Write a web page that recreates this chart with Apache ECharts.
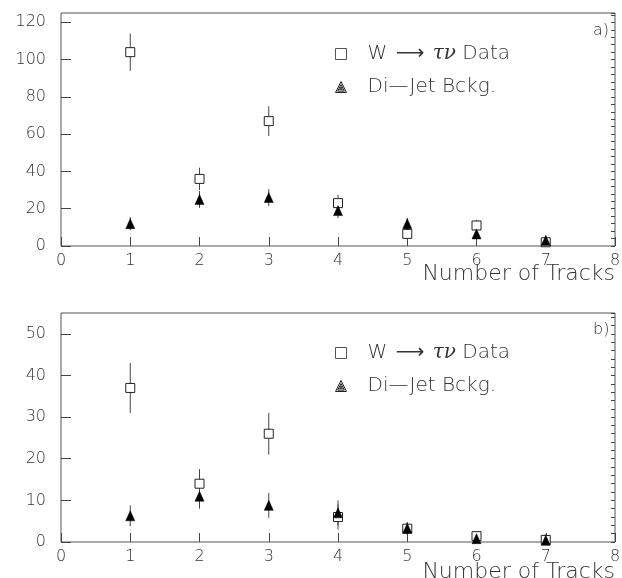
<!DOCTYPE html>
<html>
<head>
<meta charset="utf-8">
<script src="https://cdn.jsdelivr.net/npm/echarts@6/dist/echarts.min.js"></script>
<style>html,body{margin:0;padding:0;background:#fff}#c{width:622px;height:578px}</style>
</head>
<body>
<div id="c"></div>
<script>
// ---- data ----
var tracks = [1, 2, 3, 4, 5, 6, 7];
var xTickLabels = ['0', '1', '2', '3', '4', '5', '6', '7', '8'];
var panelLabels = ['a)', 'b)'];
var dataName = 'W \u2192 \u03C4\u03BD Data';
var bkgName = 'Di\u2014Jet Bckg.';
var xTitle = 'Number of Tracks';

// panel a)
var aData    = [104, 36, 67, 23, 6.5, 11, 2];
var aDataErr = [10, 6, 8, 4.5, 3, 3, 1.5];
var aBkg     = [12, 25, 26, 19, 12, 6.5, 3];
var aBkgErr  = [3.5, 4.5, 4.5, 4, 3, 3, 2.5];
// panel b)
var bData    = [37, 14, 26, 6, 3.2, 1.4, 0.5];
var bDataErr = [6, 3.5, 5, 3, 1.5, 1, 1];
var bBkg     = [6.3, 11, 8.8, 7, 3.3, 0.8, 0.4];
var bBkgErr  = [2.5, 3, 3, 3, 1.5, 1, 1.5];

var yMax = [125, 55];
var yMajor = [20, 10];
var yMinor = [4, 2];

// ---- chart ----
var FONT = 'DejaVu Sans';
var TXT = '#333';
var LINE = '#444';

function pts(xs, ys, es) {
  return xs.map(function (x, i) { return es ? [x, ys[i], es[i]] : [x, ys[i]]; });
}
function errSeries(idx, xs, ys, es) {
  return {
    type: 'custom', xAxisIndex: idx, yAxisIndex: idx * 2, z: 1, silent: true,
    data: pts(xs, ys, es), encode: { x: 0, y: 1 },
    renderItem: function (params, api) {
      var x = api.value(0), y = api.value(1), e = api.value(2);
      var p1 = api.coord([x, Math.max(0, y - e)]);
      var p2 = api.coord([x, y + e]);
      return { type: 'line', shape: { x1: p1[0], y1: p1[1], x2: p2[0], y2: p2[1] },
               style: { stroke: LINE, lineWidth: 1 } };
    }
  };
}

var grids = [
  { left: 61, right: 7, top: 13, bottom: 332 },
  { left: 61, right: 7, top: 313, bottom: 36 }
];
var xAxes = [], yAxes = [], series = [], legends = [], titles = [];
var triPath = 'path://M0,20L10,0L20,20Z M4,17.5L10,5.5L16,17.5Z M7.5,15L10,10L12.5,15Z';

[0, 1].forEach(function (g) {
  xAxes.push({
    type: 'value', gridIndex: g, min: 0, max: 8, interval: 1,
    axisLine: { show: false },
    axisTick: { show: true, inside: true, length: 9, lineStyle: { color: LINE } },
    splitLine: { show: false },
    axisLabel: { fontFamily: FONT, fontSize: 16, fontWeight: 200, color: TXT, margin: 7,
                 formatter: function (v) { return xTickLabels[v]; } }
  });
  yAxes.push({
    type: 'value', gridIndex: g, min: 0, max: yMax[g], interval: yMajor[g],
    axisLine: { show: false },
    axisTick: { show: true, inside: true, length: 10, lineStyle: { color: LINE } },
    splitLine: { show: false },
    axisLabel: { fontFamily: FONT, fontSize: 16, fontWeight: 200, color: TXT, margin: 15,
                 showMaxLabel: false }
  });
  yAxes.push({
    type: 'value', gridIndex: g, min: 0, max: yMax[g], interval: yMinor[g],
    axisLine: { show: false },
    axisTick: { show: true, inside: true, length: 4, lineStyle: { color: LINE } },
    splitLine: { show: false }, axisLabel: { show: false }
  });
  var d = g === 0 ? aData : bData, de = g === 0 ? aDataErr : bDataErr;
  var b = g === 0 ? aBkg : bBkg, be = g === 0 ? aBkgErr : bBkgErr;
  series.push(errSeries(g, tracks, d, de));
  series.push(errSeries(g, tracks, b, be));
  series.push({
    name: dataName, type: 'scatter', xAxisIndex: g, yAxisIndex: g * 2, z: 3,
    symbol: 'rect', symbolSize: 9, data: pts(tracks, d),
    itemStyle: { color: '#fff', borderColor: '#222', borderWidth: 1, opacity: 1 }
  });
  series.push({
    name: bkgName, type: 'scatter', xAxisIndex: g, yAxisIndex: g * 2, z: 4,
    symbol: 'triangle', symbolSize: [9, 10], data: pts(tracks, b),
    itemStyle: { color: '#000', borderColor: '#000', borderWidth: 0.5, opacity: 1 }
  });
  legends.push({
    orient: 'vertical', left: 330, top: g === 0 ? 39 : 338, itemGap: 13,
    itemWidth: 11, itemHeight: 11, selectedMode: false,
    formatter: function (name) {
      if (name === dataName) return '{n|W }{a|\u27F6}{n| }{g|\u03C4\u03BD}{n| Data}';
      return '{n|' + name + '}';
    },
    textStyle: { fontFamily: FONT, fontSize: 20, fontWeight: 200, color: TXT,
                 lineHeight: 20, padding: [0, 0, 0, 16],
                 rich: {
                   n: { fontFamily: FONT, fontSize: 20, fontWeight: 200, color: TXT },
                   a: { fontFamily: 'DejaVu Sans', fontSize: 20, fontWeight: 'normal', color: TXT, padding: [0, 2, 0, 2] },
                   g: { fontFamily: 'DejaVu Serif', fontStyle: 'italic', fontSize: 20, color: TXT }
                 } },
    data: [
      { name: dataName, icon: 'rect', itemStyle: { color: '#fff', borderColor: '#555', borderWidth: 1 } },
      { name: bkgName, icon: triPath, itemStyle: { color: 'rgba(0,0,0,0)', borderColor: '#222', borderWidth: 1 } }
    ]
  });
  titles.push({
    text: panelLabels[g], left: 588, top: g === 0 ? 18 : 317,
    textStyle: { fontFamily: FONT, fontSize: 16, fontWeight: 200, color: TXT }
  });
  titles.push({
    text: xTitle, right: 7, top: g === 0 ? 263 : 561, padding: 0,
    textStyle: { fontFamily: FONT, fontSize: 22, fontWeight: 200, color: TXT }
  });
});

grids.forEach(function (gr) {
  gr.show = true; gr.borderColor = '#555'; gr.borderWidth = 1; gr.backgroundColor = 'transparent';
  gr.containLabel = false; gr.outerBoundsMode = 'none';
});

var chart = echarts.init(document.getElementById('c'), null, { renderer: 'canvas' });
chart.setOption({
  animation: false,
  backgroundColor: '#fff',
  title: titles,
  legend: legends,
  grid: grids,
  xAxis: xAxes,
  yAxis: yAxes,
  series: series
});
</script>
</body>
</html>
